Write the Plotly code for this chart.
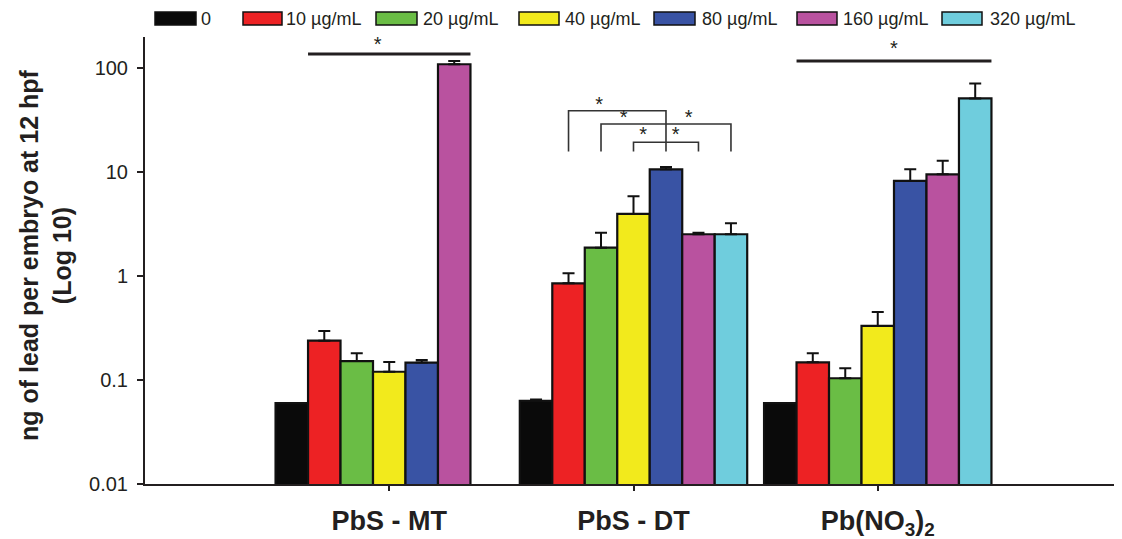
import plotly.graph_objects as go

# ---------------- data ----------------
groups = ["PbS - MT", "PbS - DT", "Pb(NO<sub>3</sub>)<sub>2</sub>"]
series_names = ["0", "10 µg/mL", "20 µg/mL", "40 µg/mL", "80 µg/mL", "160 µg/mL", "320 µg/mL"]
series_colors = ["#0a0a0a", "#ed2224", "#6abd45", "#f2ea1c", "#3953a4", "#b9529f", "#6fcddd"]

v_0 = [0.060, 0.063, 0.060]
e_0 = [0.0, 0.002, 0.0]
v_10 = [0.239, 0.85, 0.148]
e_10 = [0.057, 0.21, 0.033]
v_20 = [0.152, 1.87, 0.104]
e_20 = [0.029, 0.74, 0.026]
v_40 = [0.120, 3.95, 0.331]
e_40 = [0.029, 1.90, 0.12]
v_80 = [0.147, 10.6, 8.2]
e_80 = [0.009, 0.6, 2.4]
v_160 = [108.6, 2.52, 9.5]
e_160 = [8.0, 0.08, 3.3]
v_320 = [None, 2.52, 51.0]
e_320 = [0.0, 0.7, 20.0]

values = [v_0, v_10, v_20, v_40, v_80, v_160, v_320]
errors = [e_0, e_10, e_20, e_40, e_80, e_160, e_320]

y_tickvals = [0.01, 0.1, 1, 10, 100]
y_ticktext = ["0.01", "0.1", "1", "10", "100"]

# significance marks: (group index, first slot, last slot, line value, star slot, star value)
sig_lines = [(0, 1, 5, 136.5, 2.64, 162.0), (2, 1, 6, 116.7, 3.5, 149.0)]
# brackets in PbS-DT: (left slot, right slot, top value)
dt_brackets = [(1, 4, 38.8), (2, 6, 28.9), (3, 5, 19.3)]
dt_bracket_foot = 15.7
# asterisks on brackets: (slot position, value)
dt_stars = [(1.94, 43.0), (2.7, 32.2), (4.7, 32.2), (3.3, 22.1), (4.3, 22.1)]

# ---------------- figure ----------------
FONT = "Liberation Sans"
TXT = "#231f20"
bargap = 0.069
nser = len(series_names)
w = (1 - bargap) / nser
xs = list(range(len(groups)))

fig = go.Figure()
for name, col, vals, errs in zip(series_names, series_colors, values, errors):
    fig.add_trace(go.Bar(
        x=xs, y=vals, name=name,
        marker=dict(color=col, line=dict(color="#111111", width=2.2)),
        error_y=dict(type="data", symmetric=False, array=errs,
                     arrayminus=[0] * len(errs), color="#111111",
                     thickness=2, width=6),
        showlegend=False, hoverinfo="skip",
    ))


def slot_x(g, s):
    return g + (s - (nser - 1) / 2) * w


STAR = dict(family=FONT, size=20, color=TXT)

# long significance lines with star
for g, s0, s1, yv, star_s, star_v in sig_lines:
    fig.add_trace(go.Scatter(
        x=[slot_x(g, s0) - w / 2, slot_x(g, s1) + w / 2], y=[yv, yv],
        mode="lines", line=dict(color=TXT, width=3),
        showlegend=False, hoverinfo="skip"))
    fig.add_trace(go.Scatter(
        x=[slot_x(g, star_s)], y=[star_v], mode="text", text=["*"],
        textfont=STAR, showlegend=False, hoverinfo="skip"))

# brackets in PbS-DT
for s0, s1, top in dt_brackets:
    fig.add_trace(go.Scatter(
        x=[slot_x(1, s0), slot_x(1, s0), slot_x(1, s1), slot_x(1, s1)],
        y=[dt_bracket_foot, top, top, dt_bracket_foot],
        mode="lines", line=dict(color="#333333", width=1.6),
        showlegend=False, hoverinfo="skip"))
fig.add_trace(go.Scatter(
    x=[slot_x(1, s) for s, _ in dt_stars], y=[v for _, v in dt_stars],
    mode="text", text=["*"] * len(dt_stars),
    textfont=STAR, showlegend=False, hoverinfo="skip"))

# ---------------- layout geometry (page has an 8px body margin) ----------------
OFF = 8
PAGE_W, PAGE_H = 1122, 539
PL, PR, PT, PB = 145, 0, 37, 55          # plot box edges in page pixels
W, H = PAGE_W - OFF, PAGE_H - OFF
L, R, T, B = PL - OFF, PR, PT - OFF, PB
pw, ph = W - L - R, H - T - B


def px(xp):
    return (xp - PL) / pw


def py(yp):
    return (PAGE_H - PB - yp) / ph


# ---------------- manual legend ----------------
legend_pos = [(155, 196, 199), (243, 282, 284), (376, 417, 421), (519, 559, 563),
              (654, 695, 700), (797, 837, 841), (942, 982, 988)]
shapes = []
annotations = []
for (x0, x1, tx), name, col in zip(legend_pos, series_names, series_colors):
    shapes.append(dict(type="rect", xref="paper", yref="paper",
                       x0=px(x0), x1=px(x1), y0=py(25), y1=py(12),
                       fillcolor=col, line=dict(color="#111111", width=1.5)))
    annotations.append(dict(xref="paper", yref="paper", x=px(tx), y=py(18.5),
                            text=name, showarrow=False, xanchor="left", yanchor="middle",
                            font=dict(family=FONT, size=18, color=TXT)))

annotations.append(dict(
    xref="paper", yref="paper", x=px(45), y=py(255),
    text="ng of lead per embryo at 12 hpf<br>(Log 10)", showarrow=False,
    textangle=-90, xanchor="center", yanchor="middle", align="center",
    font=dict(family=FONT, size=25, color=TXT, weight="bold")))

fig.update_layout(
    width=W, height=H,
    margin=dict(l=L, r=R, t=T, b=B),
    paper_bgcolor="white", plot_bgcolor="white",
    barmode="group", bargap=bargap, bargroupgap=0,
    shapes=shapes, annotations=annotations,
    showlegend=False,
    xaxis=dict(range=[-1, 3], tickvals=xs, ticktext=groups,
               showline=True, linecolor=TXT, linewidth=2,
               ticks="outside", ticklen=5, tickwidth=1.5, tickcolor=TXT,
               showgrid=False, zeroline=False, ticklabelstandoff=7,
               tickfont=dict(family=FONT, size=27, color=TXT, weight="bold")),
    yaxis=dict(type="log", range=[-2, 2.298], tickvals=y_tickvals, ticktext=y_ticktext,
               showline=True, linecolor=TXT, linewidth=2,
               ticks="outside", ticklen=6, tickwidth=1.5, tickcolor=TXT,
               showgrid=False, zeroline=False, ticklabelstandoff=5,
               tickfont=dict(family=FONT, size=20, color=TXT)),
)

fig.write_html("out.html")
